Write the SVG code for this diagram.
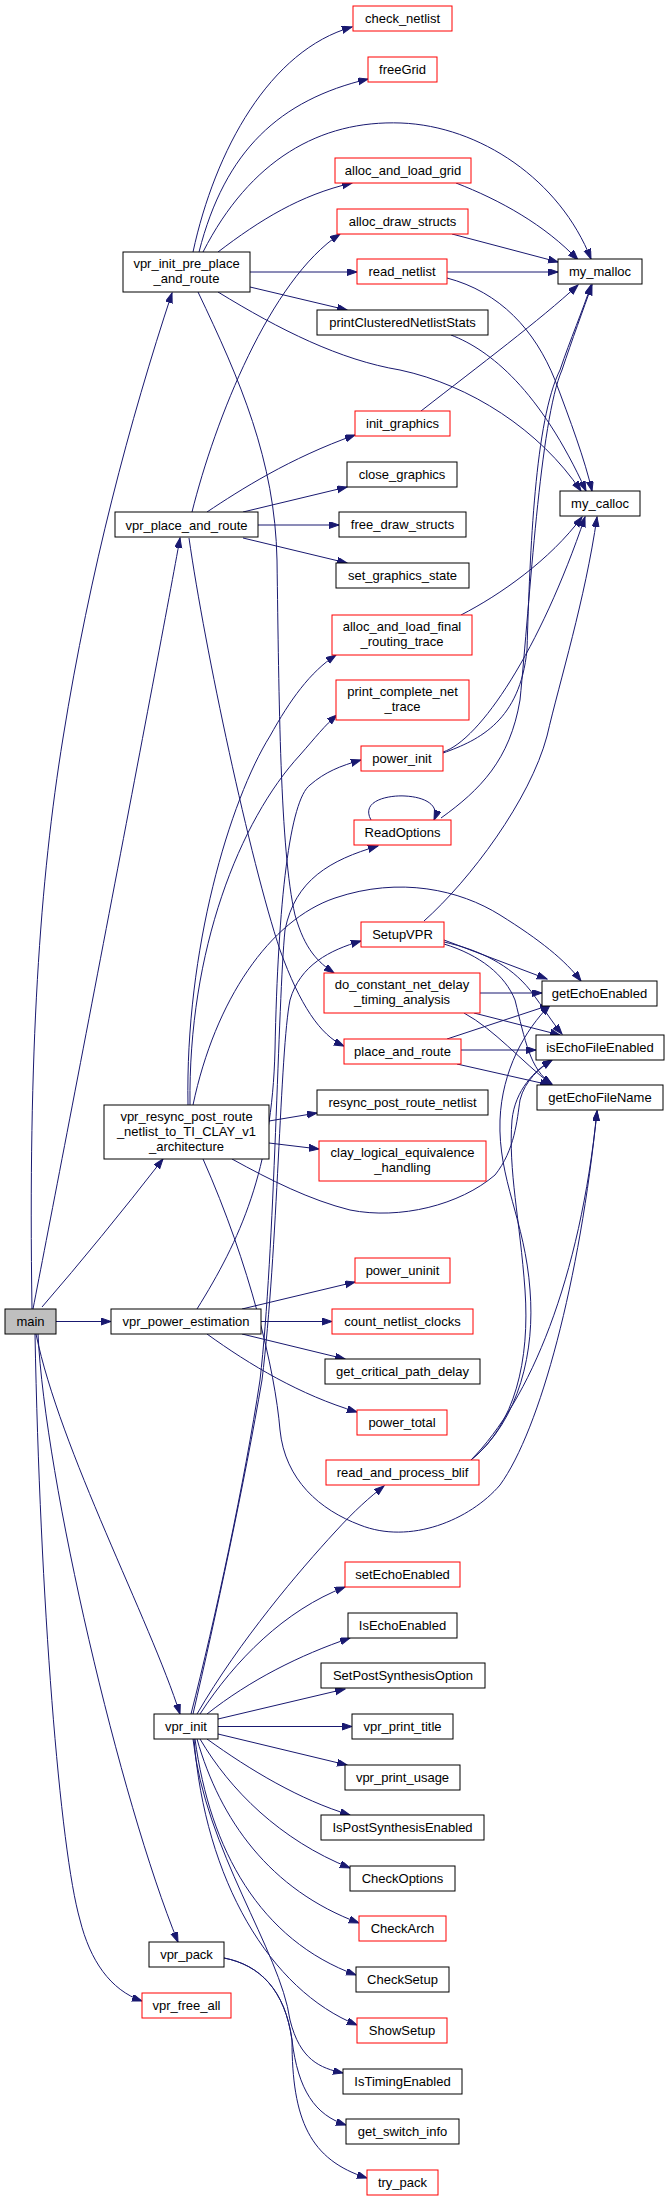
<svg xmlns="http://www.w3.org/2000/svg" width="669" height="2201" viewBox="0 0 669 2201">
<style>
.n rect{fill:#fff;stroke:#000;stroke-width:1}
.n.r rect{stroke:#ff0000}
.n.m rect{fill:#bfbfbf}
.n text{font-family:"Liberation Sans",Arial,sans-serif;font-size:13px;fill:#000;text-anchor:middle}
.e path{fill:none;stroke:#191970;stroke-width:1;marker-end:url(#a)}
</style>
<defs>
<marker id="a" markerUnits="userSpaceOnUse" markerWidth="11" markerHeight="8" refX="10" refY="3.5" orient="auto"><path d="M0,0 L10,3.5 L0,7 z" fill="#191970" stroke="#191970"/></marker>
</defs>
<rect width="669" height="2201" fill="#fff"/>
<g id="edges" class="e">
<path d="M32,1309 C28,1050 40,880 63,738 C90,570 130,420 172,293"/>
<path d="M33,1309 C60,1170 160,650 180,538"/>
<path d="M42,1307 Q100,1240 163,1159"/>
<path d="M56,1321.5 L111,1321.5"/>
<path d="M36,1334 C60,1450 150,1620 180,1714"/>
<path d="M38,1334 C45,1480 120,1800 178,1942"/>
<path d="M35,1334 C40,1600 60,1850 80,1920 C90,1960 110,1990 142,2001"/>
<path d="M193,252 C215,150 270,50 352,27"/>
<path d="M199,252 C225,150 280,100 368,79"/>
<path d="M203,252 C250,160 320,120 401,123 C480,126 560,180 591,259"/>
<path d="M218,252 C260,220 300,195 352,183"/>
<path d="M250,272 L357,272"/>
<path d="M250,287 L347,310"/>
<path d="M218,292 C280,330 340,360 400,370 C470,385 540,430 581,491"/>
<path d="M198,292 C240,380 275,460 277,560 C279,700 280,850 295,915 C305,950 318,962 334,973"/>
<path d="M192,512 C215,420 270,280 340,234"/>
<path d="M207,512 C240,490 290,458 355,435"/>
<path d="M243,512 L347,487"/>
<path d="M258,525 L339,525"/>
<path d="M243,538 L347,563"/>
<path d="M189,538 C205,650 250,860 280,950 C300,1005 320,1035 344,1046"/>
<path d="M188,1105 C185,950 230,800 270,736 C290,700 310,672 336,655"/>
<path d="M190,1105 C188,950 240,820 300,755 C315,738 325,725 337,715"/>
<path d="M193,1105 C215,1000 270,920 335,898 C400,876 460,890 500,915 C540,940 565,960 581,981"/>
<path d="M269,1121 L317,1113"/>
<path d="M269,1143 L319,1149"/>
<path d="M232,1159 C270,1180 310,1200 350,1210 C400,1220 460,1205 495,1175 C515,1150 517,1120 520,1100 C525,1080 540,1068 552,1060"/>
<path d="M203,1159 C250,1265 275,1370 280,1430 C285,1480 320,1510 360,1525 C410,1545 470,1520 500,1485 C540,1430 580,1280 597,1111"/>
<path d="M197,1309 C240,1240 272,1170 275,1050 C278,900 290,800 310,785 C325,772 340,766 361,760"/>
<path d="M242,1309 L355,1282"/>
<path d="M261,1321.5 L332,1321.5"/>
<path d="M242,1334 L345,1359"/>
<path d="M207,1334 C250,1365 300,1395 357,1412"/>
<path d="M197,1714 C240,1640 300,1570 335,1532 C355,1510 370,1497 384,1486"/>
<path d="M200,1714 C235,1660 285,1610 345,1587"/>
<path d="M207,1714 C250,1680 300,1655 350,1638"/>
<path d="M218,1719 L345,1689"/>
<path d="M218,1726.5 L352,1726.5"/>
<path d="M218,1734 L347,1765"/>
<path d="M207,1739 C250,1770 300,1800 350,1815"/>
<path d="M200,1739 C230,1790 280,1840 350,1868"/>
<path d="M197,1739 C220,1820 270,1890 359,1923"/>
<path d="M195,1739 C210,1850 260,1940 356,1975"/>
<path d="M194,1739 C205,1880 270,1990 357,2025"/>
<path d="M193,1739 C205,1850 280,1950 290,2020 C300,2060 320,2068 343,2073"/>
<path d="M191,1714 C215,1620 245,1480 260,1380 C275,1250 278,1000 285,930 C295,880 330,860 378,846"/>
<path d="M193,1714 C215,1620 245,1480 262,1380 C278,1250 280,1050 290,1000 C300,965 330,950 361,941"/>
<path d="M224,1958 C260,1965 285,1990 292,2040 C298,2090 315,2115 346,2125"/>
<path d="M224,1958 C260,1965 285,1990 292,2040 C292,2120 310,2160 367,2178"/>
<path d="M456,183 C500,200 545,225 578,260"/>
<path d="M452,234 L558,262"/>
<path d="M447,272 L558,272"/>
<path d="M447,278 C500,292 535,330 555,380 C570,420 585,460 592,491"/>
<path d="M451,335 C490,350 540,390 586,491"/>
<path d="M421,411 C480,365 540,320 578,285"/>
<path d="M461,615 C500,595 550,560 582,517"/>
<path d="M443,753 C480,740 520,720 527,650 C530,550 535,420 560,370 C570,340 583,310 591,285"/>
<path d="M443,752 C480,740 540,650 585,517"/>
<path d="M441,818 C480,790 510,760 520,700 C530,600 540,420 562,370 C572,340 583,310 592,285"/>
<path d="M424,921 C470,880 530,800 547,736 C560,680 585,600 597,517"/>
<path d="M371,820 C360,800 390,795 405,796 C425,797 440,805 434,820"/>
<path d="M444,940 L547,979"/>
<path d="M444,942 C480,950 510,965 530,990 C545,1010 552,1022 562,1034"/>
<path d="M444,944 C480,955 505,975 515,1000 C525,1040 530,1070 552,1084"/>
<path d="M480,993 L542,993"/>
<path d="M474,1013 L560,1035"/>
<path d="M464,1013 C495,1030 520,1060 552,1085"/>
<path d="M447,1039 L550,1005"/>
<path d="M461,1050 L536,1050"/>
<path d="M457,1064 L550,1085"/>
<path d="M471,1460 C520,1420 535,1350 530,1290 C525,1220 498,1180 500,1120 C502,1070 525,1030 550,1005"/>
<path d="M471,1460 C515,1425 530,1360 525,1290 C520,1220 508,1170 512,1120 C515,1090 535,1070 552,1060"/>
<path d="M471,1460 C530,1400 580,1280 597,1111"/>
</g>
<g id="main" class="n m"><rect x="5" y="1309" width="51" height="25"/><text x="30.5" y="1326">main</text></g>
<g id="vpr_init_pre_place_and_route" class="n"><rect x="123" y="252" width="127" height="40"/><text x="186.5" y="268">vpr_init_pre_place</text><text x="186.5" y="283">_and_route</text></g>
<g id="vpr_place_and_route" class="n"><rect x="115" y="512" width="143" height="25"/><text x="186.5" y="529.5">vpr_place_and_route</text></g>
<g id="vpr_resync" class="n"><rect x="104" y="1105" width="165" height="54"/><text x="186.5" y="1121">vpr_resync_post_route</text><text x="186.5" y="1136">_netlist_to_TI_CLAY_v1</text><text x="186.5" y="1151">_architecture</text></g>
<g id="vpr_power_estimation" class="n"><rect x="111" y="1309" width="150" height="25"/><text x="186" y="1326">vpr_power_estimation</text></g>
<g id="vpr_init" class="n"><rect x="154" y="1714" width="64" height="25"/><text x="186" y="1731">vpr_init</text></g>
<g id="vpr_pack" class="n"><rect x="149" y="1942" width="75" height="25"/><text x="186.5" y="1959">vpr_pack</text></g>
<g id="vpr_free_all" class="n r"><rect x="142" y="1993" width="89" height="25"/><text x="186.5" y="2010">vpr_free_all</text></g>
<g id="check_netlist" class="n r"><rect x="353" y="6" width="99" height="25"/><text x="402.5" y="23">check_netlist</text></g>
<g id="freeGrid" class="n r"><rect x="368" y="57" width="69" height="25"/><text x="402.5" y="74">freeGrid</text></g>
<g id="alloc_and_load_grid" class="n r"><rect x="335" y="158" width="136" height="25"/><text x="403" y="175">alloc_and_load_grid</text></g>
<g id="alloc_draw_structs" class="n r"><rect x="337" y="209" width="131" height="25"/><text x="402.5" y="226">alloc_draw_structs</text></g>
<g id="read_netlist" class="n r"><rect x="357" y="259" width="90" height="25"/><text x="402" y="276">read_netlist</text></g>
<g id="my_malloc" class="n"><rect x="558" y="259" width="84" height="25"/><text x="600" y="276">my_malloc</text></g>
<g id="printClusteredNetlistStats" class="n"><rect x="317" y="310" width="171" height="25"/><text x="402.5" y="327">printClusteredNetlistStats</text></g>
<g id="init_graphics" class="n r"><rect x="355" y="411" width="95" height="25"/><text x="402.5" y="428">init_graphics</text></g>
<g id="close_graphics" class="n"><rect x="347" y="462" width="110" height="25"/><text x="402" y="479">close_graphics</text></g>
<g id="my_calloc" class="n"><rect x="560" y="491" width="80" height="25"/><text x="600" y="508">my_calloc</text></g>
<g id="free_draw_structs" class="n"><rect x="339" y="512" width="127" height="25"/><text x="402.5" y="529">free_draw_structs</text></g>
<g id="set_graphics_state" class="n"><rect x="336" y="563" width="133" height="25"/><text x="402.5" y="580">set_graphics_state</text></g>
<g id="alloc_and_load_final_routing_trace" class="n r"><rect x="332" y="615" width="140" height="40"/><text x="402" y="631">alloc_and_load_final</text><text x="402" y="646">_routing_trace</text></g>
<g id="print_complete_net_trace" class="n r"><rect x="336" y="680" width="133" height="40"/><text x="402.5" y="696">print_complete_net</text><text x="402.5" y="711">_trace</text></g>
<g id="power_init" class="n r"><rect x="361" y="746" width="82" height="25"/><text x="402" y="763">power_init</text></g>
<g id="ReadOptions" class="n r"><rect x="354" y="820" width="97" height="25"/><text x="402.5" y="837">ReadOptions</text></g>
<g id="SetupVPR" class="n r"><rect x="361" y="922" width="83" height="25"/><text x="402.5" y="939">SetupVPR</text></g>
<g id="do_constant_net_delay_timing_analysis" class="n r"><rect x="324" y="973" width="156" height="40"/><text x="402" y="989">do_constant_net_delay</text><text x="402" y="1004">_timing_analysis</text></g>
<g id="getEchoEnabled" class="n"><rect x="542" y="981" width="115" height="25"/><text x="599.5" y="998">getEchoEnabled</text></g>
<g id="place_and_route" class="n r"><rect x="344" y="1039" width="117" height="25"/><text x="402.5" y="1056">place_and_route</text></g>
<g id="isEchoFileEnabled" class="n"><rect x="536" y="1035" width="128" height="25"/><text x="600" y="1052">isEchoFileEnabled</text></g>
<g id="getEchoFileName" class="n"><rect x="537" y="1085" width="126" height="25"/><text x="600" y="1102">getEchoFileName</text></g>
<g id="resync_post_route_netlist" class="n"><rect x="317" y="1090" width="171" height="25"/><text x="402.5" y="1107">resync_post_route_netlist</text></g>
<g id="clay_logical_equivalence_handling" class="n r"><rect x="319" y="1141" width="167" height="40"/><text x="402.5" y="1157">clay_logical_equivalence</text><text x="402.5" y="1172">_handling</text></g>
<g id="power_uninit" class="n r"><rect x="355" y="1258" width="95" height="25"/><text x="402.5" y="1275">power_uninit</text></g>
<g id="count_netlist_clocks" class="n r"><rect x="332" y="1309" width="141" height="25"/><text x="402.5" y="1326">count_netlist_clocks</text></g>
<g id="get_critical_path_delay" class="n"><rect x="325" y="1359" width="155" height="25"/><text x="402.5" y="1376">get_critical_path_delay</text></g>
<g id="power_total" class="n r"><rect x="357" y="1410" width="90" height="25"/><text x="402" y="1427">power_total</text></g>
<g id="read_and_process_blif" class="n r"><rect x="326" y="1460" width="153" height="25"/><text x="402.5" y="1477">read_and_process_blif</text></g>
<g id="setEchoEnabled" class="n r"><rect x="345" y="1562" width="115" height="25"/><text x="402.5" y="1579">setEchoEnabled</text></g>
<g id="IsEchoEnabled" class="n"><rect x="348" y="1613" width="109" height="25"/><text x="402.5" y="1630">IsEchoEnabled</text></g>
<g id="SetPostSynthesisOption" class="n"><rect x="321" y="1663" width="164" height="25"/><text x="403" y="1680">SetPostSynthesisOption</text></g>
<g id="vpr_print_title" class="n"><rect x="352" y="1714" width="101" height="25"/><text x="402.5" y="1731">vpr_print_title</text></g>
<g id="vpr_print_usage" class="n"><rect x="345" y="1765" width="115" height="25"/><text x="402.5" y="1782">vpr_print_usage</text></g>
<g id="IsPostSynthesisEnabled" class="n"><rect x="321" y="1815" width="163" height="25"/><text x="402.5" y="1832">IsPostSynthesisEnabled</text></g>
<g id="CheckOptions" class="n"><rect x="350" y="1866" width="105" height="25"/><text x="402.5" y="1883">CheckOptions</text></g>
<g id="CheckArch" class="n r"><rect x="359" y="1916" width="87" height="25"/><text x="402.5" y="1933">CheckArch</text></g>
<g id="CheckSetup" class="n"><rect x="356" y="1967" width="93" height="25"/><text x="402.5" y="1984">CheckSetup</text></g>
<g id="ShowSetup" class="n r"><rect x="357" y="2018" width="90" height="25"/><text x="402" y="2035">ShowSetup</text></g>
<g id="IsTimingEnabled" class="n"><rect x="343" y="2069" width="119" height="25"/><text x="402.5" y="2086">IsTimingEnabled</text></g>
<g id="get_switch_info" class="n"><rect x="346" y="2119" width="113" height="25"/><text x="402.5" y="2136">get_switch_info</text></g>
<g id="try_pack" class="n r"><rect x="367" y="2170" width="71" height="25"/><text x="402.5" y="2187">try_pack</text></g>
</svg>
